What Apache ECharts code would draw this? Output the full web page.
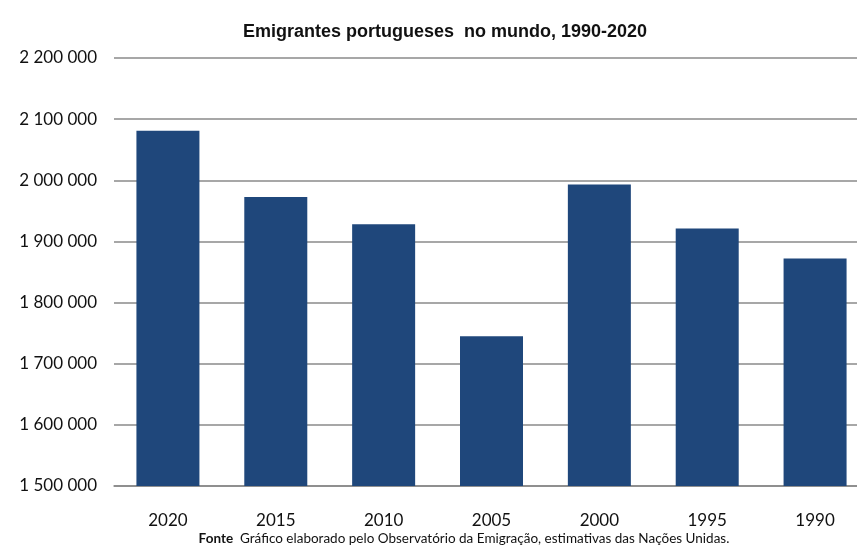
<!DOCTYPE html>
<html>
<head>
<meta charset="utf-8">
<script src="https://cdn.jsdelivr.net/npm/echarts@6/dist/echarts.min.js"></script>
<style>
  html, body { margin: 0; padding: 0; background: #fff; }
  #chart { width: 857px; height: 548px; }
</style>
</head>
<body>
<div id="chart"></div>
<script>
var anos = ['2020', '2015', '2010', '2005', '2000', '1995', '1990'];
var emigrantes = [2081000, 1972500, 1928000, 1745000, 1993000, 1921000, 1872000];

var myChart = echarts.init(document.getElementById('chart'));

// separador de milhares com espaço
function fmt(v) {
    return String(v).replace(/\B(?=(\d{3})+(?!\d))/g, ' ');
}

var option = {
    backgroundColor: '#fff',
    animation: false,
    title: [{
        text: 'Emigrantes portugueses  no mundo, 1990-2020',
        left: 440,
        textAlign: 'center',
        top: 18,
        textStyle: {
            fontFamily: 'Liberation Sans Narrow, Liberation Sans, Arial',
            fontWeight: 'bold',
            fontSize: 18,
            color: '#111'
        }
    }, {
        text: '{b|Fonte}  Gráfico elaborado pelo Observatório da Emigração, estimativas das Nações Unidas.',
        left: 464,
        textAlign: 'center',
        top: 532,
        padding: 0,
        textStyle: {
            fontFamily: 'Lato, Open Sans, sans-serif',
            fontSize: 13.5,
            fontWeight: 'normal',
            color: '#111',
            rich: {
                b: { fontFamily: 'Lato, Open Sans, sans-serif', fontSize: 13.5, fontWeight: 'bold', color: '#111' }
            }
        }
    }],
    grid: {
        left: 114,
        top: 58,
        right: -12,
        height: 428,
        outerBoundsMode: 'none'
    },
    xAxis: {
        type: 'category',
        data: anos,
        axisLine: { show: true, lineStyle: { color: '#888', width: 1.5 } },
        axisTick: { show: false },
        axisLabel: {
            margin: 26,
            fontFamily: 'Lato, Open Sans, sans-serif',
            fontSize: 17,
            color: '#111'
        }
    },
    yAxis: {
        type: 'value',
        min: 1500000,
        max: 2200000,
        interval: 100000,
        axisLine: { show: false },
        axisTick: { show: false },
        splitLine: { lineStyle: { color: '#8a8a8a', width: 1.5 } },
        axisLabel: {
            margin: 17,
            fontFamily: 'Lato, Open Sans, sans-serif',
            fontSize: 17,
            color: '#111',
            formatter: fmt
        }
    },
    series: [{
        type: 'bar',
        data: emigrantes,
        barWidth: 63,
        itemStyle: { color: '#1f477b' }
    }]
};
myChart.setOption(option);
</script>
</body>
</html>
